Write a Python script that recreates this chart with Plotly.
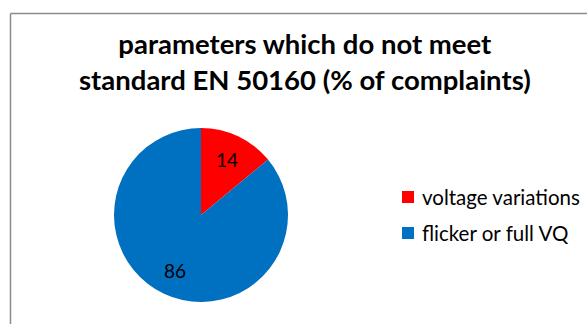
import math
import plotly.graph_objects as go

labels = ["voltage variations", "flicker or full VQ"]
values = [14, 86]
colors = ["#FF0000", "#0070C0"]
title_lines = ["parameters which do not meet", "standard EN 50160 (% of complaints)"]

W, H = 587, 324
FONT = "Lato, Carlito, Calibri, sans-serif"

# pie geometry in pixels
CX, CY, R = 201, 215, 87

fig = go.Figure()
fig.add_trace(go.Pie(
    labels=labels,
    values=values,
    marker=dict(colors=colors, line=dict(width=0)),
    sort=False,
    direction="clockwise",
    rotation=0,
    textinfo="none",
    domain=dict(x=[(CX - R) / W, (CX + R) / W],
                y=[1 - (CY + R) / H, 1 - (CY - R) / H]),
    hoverinfo="label+value",
    showlegend=False,
))

# value labels placed along each slice's bisector
total = sum(values)
start = 0.0
for v in values:
    mid = (start + v / 2) / total * 2 * math.pi
    start += v
    d = 0.7 * R
    px = CX + d * math.sin(mid)
    py = CY - d * math.cos(mid)
    fig.add_annotation(
        text=str(v), x=px / W, y=1 - py / H, xref="paper", yref="paper",
        xanchor="center", yanchor="middle", showarrow=False,
        font=dict(family=FONT, size=19, color="#000000"),
    )

# title
fig.add_annotation(
    text="<b>" + "<br>".join(title_lines) + "</b>",
    x=305 / W, y=1 - 62 / H, xref="paper", yref="paper",
    xanchor="center", yanchor="middle", showarrow=False,
    font=dict(family=FONT, size=27.5, color="#000000"),
)

# legend: colour swatch + label per slice
for i, (lab, col) in enumerate(zip(labels, colors)):
    yc = 197 + i * 36
    fig.add_shape(type="rect", xref="paper", yref="paper",
                  x0=402 / W, x1=414 / W, y0=1 - (yc + 6) / H, y1=1 - (yc - 6) / H,
                  fillcolor=col, line=dict(width=0))
    fig.add_annotation(
        text=lab, x=420 / W, y=1 - yc / H, xref="paper", yref="paper",
        xanchor="left", yanchor="middle", showarrow=False,
        font=dict(family=FONT, size=20.5, color="#000000"),
    )

# chart frame (top and left edges)
frame = dict(color="#8c8c8c", width=1.5)
fig.add_shape(type="line", xref="paper", yref="paper",
              x0=10.5 / W, x1=1, y0=1 - 13.5 / H, y1=1 - 13.5 / H, line=frame)
fig.add_shape(type="line", xref="paper", yref="paper",
              x0=10.5 / W, x1=10.5 / W, y0=0, y1=1 - 13.5 / H, line=frame)

fig.update_layout(
    width=W, height=H,
    margin=dict(l=0, r=0, t=0, b=0),
    paper_bgcolor="white",
    plot_bgcolor="white",
    showlegend=False,
)

fig.write_html("out.html")
